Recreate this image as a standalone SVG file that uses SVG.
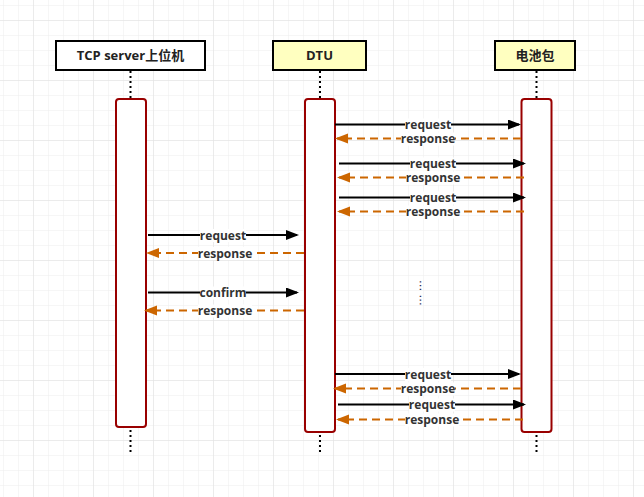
<svg xmlns="http://www.w3.org/2000/svg" width="644" height="497" viewBox="0 0 644 497">
<defs>
<pattern id="minor" x="3" y="5" width="15" height="15" patternUnits="userSpaceOnUse">
<path d="M0 0H15M0 0V15" fill="none" stroke="#ededed" stroke-width="1"/>
</pattern>
<pattern id="major" x="33" y="20" width="60" height="60" patternUnits="userSpaceOnUse">
<path d="M0 0H60M0 0V60" fill="none" stroke="#e0e0e0" stroke-width="1"/>
</pattern>
<marker id="ab" markerUnits="userSpaceOnUse" markerWidth="14" markerHeight="12" refX="11" refY="5" orient="auto">
<path d="M0 0L13 5L0 10Z" fill="#000"/>
</marker>
<marker id="ao" markerUnits="userSpaceOnUse" markerWidth="14" markerHeight="12" refX="11" refY="5" orient="auto">
<path d="M0 0L13 5L0 10Z" fill="#cc6600"/>
</marker>
<style>
.hdr{stroke:#000;stroke-width:2}
.htxt{font-family:"Open Sans","Noto Sans","Noto Sans CJK SC",sans-serif;font-weight:bold;font-size:13px;fill:#222;text-anchor:middle}
.life{stroke:#000;stroke-width:2;stroke-dasharray:2 3;fill:none}
.act{fill:#fff;stroke:#990000;stroke-width:2}
.req{stroke:#000;stroke-width:2;fill:none;marker-end:url(#ab)}
.rsp{stroke:#cc6600;stroke-width:2;stroke-dasharray:8 5;fill:none;marker-end:url(#ao)}
.lbg{fill:#fff}
.ltxt{font-family:"Open Sans","Noto Sans",sans-serif;font-weight:bold;font-size:12px;fill:#333;text-anchor:middle}
.dots{font-family:"DejaVu Sans",sans-serif;font-size:11px;fill:#2a2a55;text-anchor:middle;dominant-baseline:central}
</style>
</defs>
<rect width="644" height="497" fill="#fff"/>
<rect width="644" height="497" fill="url(#minor)"/>
<rect width="644" height="497" fill="url(#major)"/>

<g id="node-tcp">
<line class="life" x1="130.5" y1="71" x2="130.5" y2="99"/>
<line class="life" x1="130.5" y1="430" x2="130.5" y2="453"/>
<rect class="act" x="116" y="99" width="30" height="328" rx="3"/>
<rect class="hdr" x="56" y="41" width="149" height="29" fill="#fff"/>
<text class="htxt" x="130.5" y="60">TCP server上位机</text>
</g>

<g id="node-dtu">
<line class="life" x1="320" y1="71" x2="320" y2="99"/>
<line class="life" x1="320" y1="435" x2="320" y2="453"/>
<rect class="act" x="305" y="99" width="30" height="333" rx="3"/>
<rect class="hdr" x="273" y="41" width="93" height="29" fill="#ffffc0"/>
<text class="htxt" x="319.5" y="60">DTU</text>
</g>

<g id="node-battery">
<line class="life" x1="536.5" y1="71" x2="536.5" y2="99"/>
<line class="life" x1="536.5" y1="435" x2="536.5" y2="453"/>
<rect class="act" x="521.5" y="99" width="30" height="333" rx="3"/>
<rect class="hdr" x="495" y="41" width="80" height="29" fill="#ffffc0"/>
<text class="htxt" x="535" y="60">电池包</text>
</g>

<g id="connectors">
<line class="req" x1="335" y1="124.5" x2="519" y2="124.5"/>
<rect class="lbg" x="405" y="118.5" width="46" height="13"/>
<text class="ltxt" x="428" y="129">request</text>
<line class="rsp" x1="521" y1="138.5" x2="337" y2="138.5"/>
<rect class="lbg" x="401" y="132.5" width="54" height="13"/>
<text class="ltxt" x="428" y="143">response</text>

<line class="req" x1="339" y1="163.5" x2="524" y2="163.5"/>
<rect class="lbg" x="410" y="157.5" width="46" height="13"/>
<text class="ltxt" x="433" y="168">request</text>
<line class="rsp" x1="524" y1="177.5" x2="339" y2="177.5"/>
<rect class="lbg" x="406" y="171.5" width="54" height="13"/>
<text class="ltxt" x="433" y="182">response</text>

<line class="req" x1="339" y1="197.5" x2="524" y2="197.5"/>
<rect class="lbg" x="410" y="191.5" width="46" height="13"/>
<text class="ltxt" x="433" y="202">request</text>
<line class="rsp" x1="524" y1="211.5" x2="339" y2="211.5"/>
<rect class="lbg" x="406" y="205.5" width="54" height="13"/>
<text class="ltxt" x="433" y="216">response</text>

<line class="req" x1="148" y1="235" x2="297" y2="235"/>
<rect class="lbg" x="200" y="229" width="46" height="13"/>
<text class="ltxt" x="223" y="239.5">request</text>
<line class="rsp" x1="304" y1="253" x2="148" y2="253"/>
<rect class="lbg" x="198" y="247" width="54" height="13"/>
<text class="ltxt" x="225" y="257.5">response</text>

<line class="req" x1="148" y1="292.5" x2="297" y2="292.5"/>
<rect class="lbg" x="200" y="286.5" width="46" height="13"/>
<text class="ltxt" x="223" y="297">confirm</text>
<line class="rsp" x1="304" y1="310.5" x2="146" y2="310.5"/>
<rect class="lbg" x="198" y="304.5" width="54" height="13"/>
<text class="ltxt" x="225" y="315">response</text>

<line class="req" x1="335" y1="374" x2="519" y2="374"/>
<rect class="lbg" x="405" y="368" width="46" height="13"/>
<text class="ltxt" x="428" y="378.5">request</text>
<line class="rsp" x1="521" y1="388.5" x2="335" y2="388.5"/>
<rect class="lbg" x="401" y="382.5" width="54" height="13"/>
<text class="ltxt" x="428" y="393">response</text>

<line class="req" x1="338" y1="404.5" x2="524" y2="404.5"/>
<rect class="lbg" x="409" y="398.5" width="46" height="13"/>
<text class="ltxt" x="432" y="409">request</text>
<line class="rsp" x1="523" y1="419.5" x2="338" y2="419.5"/>
<rect class="lbg" x="405" y="413.5" width="54" height="13"/>
<text class="ltxt" x="432" y="424">response</text>
</g>

<text class="dots" x="420" y="293" transform="rotate(90 420 293)">⋯ ⋯</text>
</svg>
